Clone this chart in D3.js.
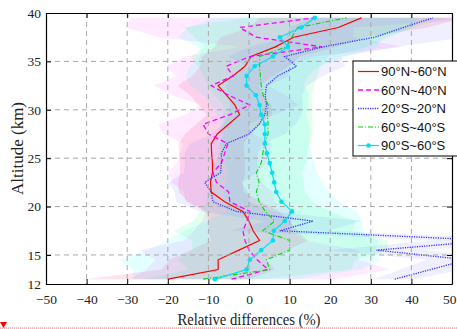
<!DOCTYPE html>
<html>
<head>
<meta charset="utf-8">
<script src="https://cdn.jsdelivr.net/npm/d3@7"></script>
<style>
  body { margin: 0; background: #fff; }
  svg { display: block; }
</style>
</head>
<body>
<div id="chart"></div>
<script>
// altitude levels (km)
const altitudes = [12.5, 13.5, 14.5, 15.5, 16.5, 17.5, 18.5, 19.5, 20.5, 21.5, 22.5, 23.5, 24.5, 25.5,
  26.5, 27.5, 28.5, 29.5, 30.5, 31.5, 32.5, 33.5, 34.5, 35.5, 36.5, 37.5, 38.5, 39.5];

// mean relative differences (%)
const n90n60 = [-20, -7.6, -7.6, -2.5, 2.6, 1, 0, -1.5, -6, -9.3, -9.5, -9, -9, -9.2,
  -9.3, -7.8, -5, -2.3, -3.5, -5.5, -7.6, -4, -1, 0.5, 6.5, 11, 22, 27.7];
const n60n40 = [-4.3, 4.7, 2, 0, -1, -1.5, -0.5, 0.2, -4.7, -5, -8, -8.9, -6.8, -6,
  -5.2, -10, -11.3, -4.7, 0.2, -5, -9.3, -3.9, -5.6, 0.2, 18, 1.8, -2.3, 16];
const s20n20 = [35.9, null, 53.7, 31.4, 60, 7.6, 15.8, -3.1, -8.9, -9.3, -10.9, -7, -6.8, -6.8,
  -5.6, 0, 2.5, 3.9, 4.3, 4, 4.3, 7.1, 11.7, 8.8, 18.2, 31, 38, 45.3];
const s60s40 = [-11.3, 5.1, 4.3, 10, 10, 3.4, 6.3, 4, 2.5, 1.8, 2.5, 1.8, 3, 3.4,
  3.9, 4.7, 4.7, 4.5, 4.7, 3.5, 3, 2.8, 2.6, 2.6, 9.2, 10.5, 12, 24];
const s90s60 = [-8.4, -0.6, 0.2, 3, 5.9, 6.1, 8.8, 10.6, 8, 6.7, 6.2, 5.7, 5.1, 4.4,
  3.9, 3.9, 3.9, 3, 2.6, 1.7, -0.6, -0.6, 1.4, 5.9, 9.6, 7.6, 12.9, 16.2];

// standard deviations (%) for the shaded bands
const sd90n60 = [20, 14, 12, 12, 12, 11, 10, 9, 9, 8, 8, 8, 8, 8,
  8, 8, 8, 8, 9, 9, 10, 10, 11, 12, 15, 18, 22, 25];
const sd60n40 = [25, 30, 25, 27, 15, 12, 11, 11, 11, 11, 11, 11, 11, 11,
  11, 11, 11, 11, 12, 14, 14, 14, 15, 16, 20, 24, 28, 45];
const sd20s20 = [5, null, 10, 12, 15, 12, 12, 9, 9, 9, 9, 9, 9, 9,
  9, 9, 9, 9, 9, 9, 10, 11, 12, 14, 18, 22, 28, 30];
const sd60s40 = [15, 20, 22, 24, 24, 22, 20, 16, 13, 12, 11, 11, 11, 11,
  11, 11, 11, 11, 11, 12, 13, 14, 15, 17, 20, 24, 28, 25];
const sd90s60 = [20, 28, 32, 28, 26, 22, 19, 16, 14, 13, 12, 11, 11, 11,
  11, 11, 11, 11, 12, 13, 14, 15, 16, 18, 22, 25, 28, 25];

const legendLabels = ["90°N~60°N", "60°N~40°N", "20°S~20°N", "60°S~40°S", "90°S~60°S"];
const xTicks = [-50, -40, -30, -20, -10, 0, 10, 20, 30, 40, 50];
const yTicks = [12, 15, 20, 25, 30, 35, 40];

const series = [
  { name: legendLabels[0], vals: n90n60, sd: sd90n60, color: "#ff0000", band: "#ff2060", op: 0.13, dash: null, width: 1.2 },
  { name: legendLabels[1], vals: n60n40, sd: sd60n40, color: "#ff00ff", band: "#ff40ff", op: 0.11, dash: "5,3", width: 1.3 },
  { name: legendLabels[2], vals: s20n20, sd: sd20s20, color: "#3030ff", band: "#5050ff", op: 0.09, dash: "1.2,1.2", width: 1.3 },
  { name: legendLabels[3], vals: s60s40, sd: sd60s40, color: "#00d800", band: "#00ff70", op: 0.11, dash: "5,2,1,2", width: 1.1 },
  { name: legendLabels[4], vals: s90s60, sd: sd90s60, color: "#00e0f0", band: "#00ffff", op: 0.11, dash: null, width: 1.2, marker: true }
];

const W = 457, H = 329;
const margin = { top: 13, right: 5, bottom: 45, left: 46 };
const width = W - margin.left - margin.right;
const height = H - margin.top - margin.bottom;

const x = d3.scaleLinear().domain([-50, 50]).range([0, width]);
const y = d3.scaleLinear().domain([12, 40]).range([height, 0]);

const root = d3.select("#chart").append("svg").attr("width", W).attr("height", H);
const svg = root.append("g").attr("transform", "translate(" + margin.left + "," + margin.top + ")");

svg.append("clipPath").attr("id", "clip")
  .append("rect").attr("width", width).attr("height", height);

const plot = svg.append("g").attr("clip-path", "url(#clip)");

// shaded bands
series.forEach(s => {
  const pts = altitudes.map((a, i) => ({ a: a, v: s.vals[i], sd: s.sd[i] })).filter(d => d.v != null);
  const area = d3.area()
    .y(d => y(d.a))
    .x0(d => x(d.v - d.sd))
    .x1(d => x(d.v + d.sd));
  plot.append("path").datum(pts)
    .attr("d", area)
    .attr("fill", s.band)
    .attr("fill-opacity", s.op)
    .attr("stroke", "none");
});

// grid
const grid = svg.append("g");
grid.selectAll(".vg").data(xTicks.slice(1, -1)).enter().append("line")
  .attr("x1", d => x(d)).attr("x2", d => x(d))
  .attr("y1", 0).attr("y2", height)
  .attr("stroke", "#a8a8a8").attr("stroke-width", 1).attr("stroke-dasharray", "5,4");
grid.selectAll(".hg").data(yTicks.slice(1, -1)).enter().append("line")
  .attr("x1", 0).attr("x2", width)
  .attr("y1", d => y(d)).attr("y2", d => y(d))
  .attr("stroke", "#a8a8a8").attr("stroke-width", 1).attr("stroke-dasharray", "5,4");

// lines
series.forEach(s => {
  const pts = altitudes.map((a, i) => ({ a: a, v: s.vals[i] })).filter(d => d.v != null);
  const line = d3.line().x(d => x(d.v)).y(d => y(d.a));
  plot.append("path").datum(pts)
    .attr("d", line)
    .attr("fill", "none")
    .attr("stroke", s.color)
    .attr("stroke-width", s.width)
    .attr("stroke-dasharray", s.dash);
  if (s.marker) {
    plot.selectAll(".mk").data(pts).enter().append("circle")
      .attr("cx", d => x(d.v)).attr("cy", d => y(d.a))
      .attr("r", 2.3).attr("fill", s.color);
  }
});

// axes (ticks inward)
const axisFont = "'Liberation Serif', 'Times New Roman', serif";
const xAxis = svg.append("g").attr("transform", "translate(0," + height + ")")
  .call(d3.axisBottom(x).tickValues(xTicks).tickSizeInner(-5).tickSizeOuter(0).tickPadding(10));
const xTop = svg.append("g")
  .call(d3.axisTop(x).tickValues(xTicks).tickSizeInner(-5).tickSizeOuter(0).tickFormat(""));
const yAxis = svg.append("g")
  .call(d3.axisLeft(y).tickValues(yTicks).tickSizeInner(-5).tickSizeOuter(0).tickPadding(5));
const yRight = svg.append("g").attr("transform", "translate(" + width + ",0)")
  .call(d3.axisRight(y).tickValues(yTicks).tickSizeInner(-5).tickSizeOuter(0).tickFormat(""));

[xAxis, xTop, yAxis, yRight].forEach(g => {
  g.select(".domain").attr("stroke", "#000").attr("stroke-width", 1.2);
  g.selectAll(".tick line").attr("stroke", "#000");
  g.selectAll("text").attr("fill", "#222").style("font-family", axisFont).style("font-size", "13.5px");
});
// keep the last x label inside the picture
xAxis.selectAll(".tick text").filter(d => d === 50)
  .attr("text-anchor", "end").attr("x", W - margin.left - width - 1);

// axis titles
svg.append("text")
  .attr("x", width / 2).attr("y", height + 41)
  .attr("text-anchor", "middle")
  .attr("textLength", 143).attr("lengthAdjust", "spacingAndGlyphs")
  .style("font-family", axisFont).style("font-size", "17px").attr("fill", "#222")
  .text("Relative differences (%)");
svg.append("text")
  .attr("transform", "translate(" + (-23) + "," + (height / 2) + ") rotate(-90)")
  .attr("text-anchor", "middle")
  .style("font-family", axisFont).style("font-size", "17px").attr("fill", "#222")
  .text("Altitude (km)");

// legend
const lg = svg.append("g").attr("transform", "translate(" + (353 - margin.left) + "," + (61 - margin.top) + ")");
lg.append("rect").attr("width", 110).attr("height", 95)
  .attr("fill", "#fff").attr("stroke", "#000").attr("stroke-width", 1);
series.forEach((s, i) => {
  const cy = 10.5 + i * 18.5;
  lg.append("line").attr("x1", 5).attr("x2", 26).attr("y1", cy).attr("y2", cy)
    .attr("stroke", s.color).attr("stroke-width", s.width)
    .attr("stroke-dasharray", s.dash);
  if (s.marker) {
    lg.append("circle").attr("cx", 15.5).attr("cy", cy).attr("r", 2.3).attr("fill", s.color);
  }
  lg.append("text").attr("x", 28).attr("y", cy + 4.5)
    .style("font-family", "'Liberation Sans', Arial, sans-serif").style("font-size", "13px")
    .attr("fill", "#111")
    .text(s.name);
});

// red marker line at the very bottom of the picture
root.append("line").attr("x1", 0).attr("x2", W).attr("y1", 328).attr("y2", 328)
  .attr("stroke", "#ff6060").attr("stroke-width", 1).attr("stroke-dasharray", "1,1");
root.append("path").attr("d", "M0,322 L7,322 L3.5,328 Z").attr("fill", "#ff0000");
</script>
</body>
</html>
